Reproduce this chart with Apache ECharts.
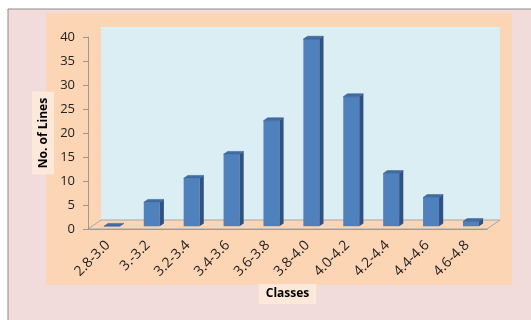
<!DOCTYPE html>
<html>
<head>
<meta charset="utf-8">
<script src="https://cdn.jsdelivr.net/npm/echarts@6/dist/echarts.min.js"></script>
<style>
  html, body { margin: 0; padding: 0; background: #ffffff; }
  #chart { width: 531px; height: 320px; }
</style>
</head>
<body>
<div id="chart"></div>
<script>
// data
var classes = ['2.8-3.0', '3.-3.2', '3.2-3.4', '3.4-3.6', '3.6-3.8', '3.8-4.0', '4.0-4.2', '4.2-4.4', '4.4-4.6', '4.6-4.8'];
var lines = [0, 5, 10, 15, 22, 39, 27, 11, 6, 1];

// plot box and the fake 3d depth
var W = 531, H = 320;
var gLeft = 88, gTop = 37, gRight = 44, gBottom = 91;
var DX = 13, DY = -9;      // full depth offset of the floor
var d0 = 0.3, d1 = 0.62;   // bar depth slice

var x0 = gLeft, x1 = W - gRight, yTop = gTop, yBot = H - gBottom;

var chart = echarts.init(document.getElementById('chart'));

var option = {
  animation: false,
  textStyle: { fontFamily: 'Open Sans' },
  graphic: [
    // outer pink frame
    { type: 'rect', z: -20, shape: { x: 8, y: 9, width: W, height: H }, style: { fill: '#F2DCDB', stroke: '#8c8c8c', lineWidth: 1 } },
    // peach chart area
    { type: 'rect', z: -19, shape: { x: 46, y: 13, width: 466, height: 272 }, style: { fill: '#FCD5B4' } },
    // back wall
    { type: 'rect', z: -18, shape: { x: x0 + DX, y: yTop + DY - 1, width: x1 - x0, height: yBot - yTop + 1 }, style: { fill: '#DBEEF4' } },
    // floor
    { type: 'polygon', z: -17, shape: { points: [[x0, yBot], [x1, yBot], [x1 + DX, yBot + DY], [x0 + DX, yBot + DY]] },
      style: { fill: '#FCD5B4', stroke: '#A6A6A6', lineWidth: 1 } }
  ],
  grid: { left: gLeft, top: gTop, right: gRight, bottom: gBottom },
  xAxis: {
    type: 'category',
    data: classes,
    name: 'Classes',
    nameLocation: 'middle',
    nameGap: 55,
    nameMoveOverlap: false,
    nameTextStyle: { fontSize: 12, fontWeight: 'bold', color: '#000', backgroundColor: '#FDE9D9', padding: [4, 7, 4, 7] },
    axisLine: { lineStyle: { color: '#9a9a9a' } },
    axisTick: { length: 5, lineStyle: { color: '#9a9a9a' } },
    axisLabel: { rotate: 45, fontSize: 14, color: '#222', margin: 14 }
  },
  yAxis: {
    type: 'value',
    min: 0, max: 40, interval: 5,
    name: 'No. of Lines',
    nameLocation: 'middle',
    nameRotate: 90,
    nameGap: 34,
    nameMoveOverlap: false,
    nameTextStyle: { fontSize: 12, fontWeight: 'bold', color: '#000', backgroundColor: '#FDE9D9', padding: [6, 6, 4, 6] },
    axisLine: { show: true, lineStyle: { color: '#9a9a9a' } },
    axisTick: { show: true, length: 5, lineStyle: { color: '#9a9a9a' } },
    axisLabel: { fontSize: 13, color: '#222', margin: 13 },
    splitLine: { show: false }
  },
  series: [{
    type: 'custom',
    data: lines.map(function (v, i) { return [i, v]; }),
    renderItem: function (params, api) {
      var base = api.coord([api.value(0), 0]);
      var top = api.coord([api.value(0), api.value(1)]);
      var bw = api.size([1, 0])[0] * 0.4;
      var ox = DX * d0, oy = DY * d0;
      var sx = DX * (d1 - d0), sy = DY * (d1 - d0);
      var l = base[0] - bw / 2 + ox, r = l + bw;
      var b = base[1] + oy, t = top[1] + oy;
      var kids = [];
      if (b - t > 0.5) {
        kids.push({ type: 'rect', shape: { x: l, y: t, width: bw, height: b - t }, style: { fill: '#4F81BD' } });
        kids.push({ type: 'polygon', shape: { points: [[r, b], [r + sx, b + sy], [r + sx, t + sy], [r, t]] }, style: { fill: '#2F5283' } });
      }
      kids.push({ type: 'polygon', shape: { points: [[l, t], [r, t], [r + sx, t + sy], [l + sx, t + sy]] }, style: { fill: '#3F6DA6', stroke: '#34598a', lineWidth: 0.5 } });
      return { type: 'group', children: kids };
    }
  }]
};

chart.setOption(option);
</script>
</body>
</html>
